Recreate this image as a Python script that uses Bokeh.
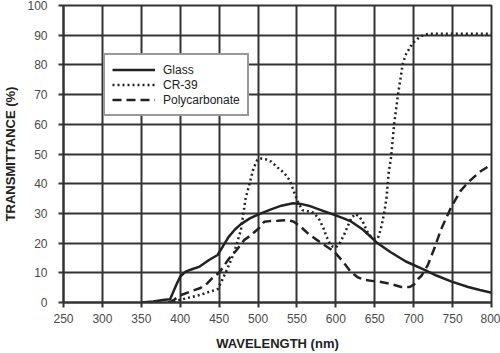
from bokeh.plotting import figure
from bokeh.models import Range1d, FixedTicker, Legend, LegendItem
from bokeh.embed import file_html
from bokeh.resources import INLINE

x_ticks = [250, 300, 350, 400, 450, 500, 550, 600, 650, 700, 750, 800]
y_ticks = [0, 10, 20, 30, 40, 50, 60, 70, 80, 90, 100]

glass_x = [350, 365, 380, 387, 395, 400, 407, 415, 425, 437, 448, 455, 462, 470, 478, 490, 500, 515,
           530, 545, 555, 565, 580, 598, 610, 620, 635, 652, 670, 690, 714, 730, 748, 770, 785, 800]
glass_y = [0, 0.3, 0.9, 1.1, 6, 8.7, 10.4, 11.2, 12.1, 14.3, 16, 19, 22, 24.5, 26.4, 28.4, 29.6, 31.2,
           32.6, 33.4, 33.2, 32.6, 31.2, 29.5, 28.3, 27.2, 24.5, 20.3, 17, 13.8, 11, 9, 7.1, 5.2, 4.2, 3.3]

cr39_x = [385, 400, 426, 440, 448, 454, 460, 469, 478, 484, 489, 494, 499, 504, 510, 517, 525, 534,
          541, 547, 552, 557, 563, 569, 574, 579, 584, 588, 592, 596, 600, 605, 610, 615, 620, 625,
          630, 635, 640, 645, 650, 654, 658, 662, 665, 668, 671, 675, 680, 686, 690, 695, 700, 705,
          712, 720, 760, 800]
cr39_y = [0, 0.9, 2.6, 3.8, 4.5, 7.6, 11, 16.6, 24.4, 35, 40, 45, 48, 48.5, 48.2, 47.4, 45.5, 43.5,
          41, 36.7, 33.5, 31.1, 30.8, 30.6, 29.5, 27.8, 25, 22.2, 20, 18.8, 18.5, 20, 22.5, 25.5, 28.5, 29.8,
          29, 27, 24, 22.2, 21.5, 21.6, 25, 30, 35, 44, 49, 60.3, 70.3, 80.4, 83.5, 85.8, 87.6, 88.8,
          90, 90.5, 90.5, 90.5]

pc_x = [385, 392, 400, 412, 426, 435, 443, 450, 460, 465, 472, 482, 490, 501, 508, 515, 525, 538,
        546, 555, 565, 576, 587, 598, 609, 619, 628, 637, 648, 656, 670, 684, 695, 701, 706, 710,
        718, 727, 735, 748, 760, 770, 785, 800]
pc_y = [0, 0.9, 2.4, 3.6, 4.9, 6.5, 8.7, 10, 13.8, 15.5, 17.5, 21, 22.5, 25, 27.2, 27.4, 27.5, 27.8,
        27.2, 25.5, 23, 21, 19, 17.1, 13.8, 10.4, 8.5, 7.6, 7.2, 7, 6.3, 5.2, 5.2, 6.2, 8, 9,
        12.5, 18.5, 24.5, 32, 37.5, 40.5, 44, 46.5]

FONT = "Liberation Sans"
GRID = "#333333"

p = figure(width=500, height=353, output_backend="svg", toolbar_location=None,
           x_range=Range1d(250, 800), y_range=Range1d(0, 100),
           min_border_left=63, min_border_right=9, min_border_top=5, min_border_bottom=50)
p.background_fill_color = "white"
p.border_fill_color = "white"
p.outline_line_color = GRID
p.outline_line_width = 2

for ax in (p.xaxis[0], p.yaxis[0]):
    ax.axis_line_color = GRID
    ax.axis_line_width = 2
    ax.major_tick_line_color = GRID
    ax.major_tick_line_width = 2
    ax.major_tick_out = 5
    ax.major_tick_in = 0
    ax.minor_tick_line_color = None
    ax.major_label_text_font = FONT
    ax.major_label_text_font_size = "12px"
    ax.major_label_text_color = "#4a4a4a"
    ax.axis_label_text_font = FONT
    ax.axis_label_text_font_style = "bold"
    ax.axis_label_text_font_size = "13px"
    ax.axis_label_text_color = "#222222"

p.xaxis[0].ticker = FixedTicker(ticks=x_ticks)
p.yaxis[0].ticker = FixedTicker(ticks=y_ticks)
p.xaxis[0].axis_label = "WAVELENGTH (nm)"
p.yaxis[0].axis_label = "TRANSMITTANCE (%)"
p.xaxis[0].major_label_standoff = 6
p.yaxis[0].major_label_standoff = 11
p.xaxis[0].axis_label_standoff = 10
p.yaxis[0].axis_label_standoff = 6

p.xgrid.ticker = FixedTicker(ticks=x_ticks)
p.ygrid.ticker = FixedTicker(ticks=y_ticks)
for g in (p.xgrid[0], p.ygrid[0]):
    g.grid_line_color = GRID
    g.grid_line_width = 2
    g.grid_line_alpha = 1

r_glass = p.line(glass_x, glass_y, line_color="#222222", line_width=2.5)
r_cr = p.line(cr39_x, cr39_y, line_color="#222222", line_width=2.5, line_dash="2 3")
r_pc = p.line(pc_x, pc_y, line_color="#222222", line_width=2.5, line_dash="9 5")

legend = Legend(items=[LegendItem(label="Glass", renderers=[r_glass]),
                       LegendItem(label="CR-39", renderers=[r_cr]),
                       LegendItem(label="Polycarbonate", renderers=[r_pc])],
                location=(40, 186))
legend.border_line_color = GRID
legend.border_line_width = 2
legend.background_fill_color = "white"
legend.background_fill_alpha = 1
legend.label_text_font = FONT
legend.label_text_font_size = "12px"
legend.label_text_color = "#222222"
legend.glyph_width = 43
legend.glyph_height = 15
legend.label_height = 15
legend.label_width = 76
legend.label_standoff = 8
legend.spacing = 0
legend.padding = 7
legend.margin = 0
p.add_layout(legend, "center")

open("out.html", "w").write(file_html(p, INLINE))
